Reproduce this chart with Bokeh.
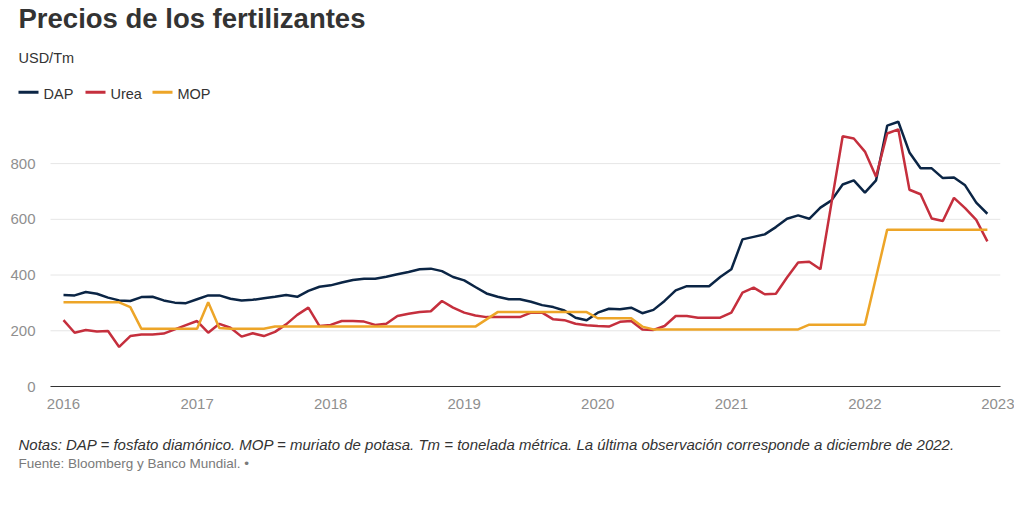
from bokeh.plotting import figure
from bokeh.models import Label, FixedTicker
from bokeh.layouts import column
from bokeh.embed import file_html
from bokeh.resources import INLINE

# ---- data (monthly, Jan 2016 - Dec 2022), USD/Tm ----
years = [2016, 2017, 2018, 2019, 2020, 2021, 2022]
dap = [
    328, 327, 339, 333, 319, 309, 307, 321, 322, 309, 301, 299,
    313, 327, 327, 315, 309, 311, 317, 322, 328, 322, 343, 358,
    363, 373, 382, 387, 387, 394, 403, 411, 421, 423, 414, 393,
    381, 357, 334, 322, 313, 313, 304, 292, 285, 273, 247, 238,
    265, 279, 277, 283, 263, 275, 307, 345, 360, 360, 360, 393,
    421, 528, 537, 546, 572, 602, 614, 602, 642, 668, 725, 740,
    696, 740, 936, 950, 840, 783, 783, 748, 750, 722, 660, 620,
]
urea = [
    238, 193, 203, 197, 199, 142, 181, 187, 187, 190, 205, 220,
    235, 193, 225, 211, 179, 191, 181, 196, 223, 257, 283, 217,
    221, 235, 235, 233, 221, 225, 253, 261, 267, 270, 307, 283,
    265, 255, 249, 249, 249, 249, 265, 265, 241, 238, 225, 220,
    217, 215, 232, 235, 205, 203, 217, 253, 253, 247, 247, 247,
    265, 337, 355, 331, 333, 391, 445, 448, 421, 660, 898, 890,
    843, 753, 908, 923, 706, 690, 603, 594, 677, 640, 598, 521,
]
mop = [
    302, 302, 302, 302, 302, 302, 285, 207, 207, 207, 207, 207,
    207, 302, 210, 207, 207, 207, 207, 215, 215, 215, 215, 215,
    215, 215, 215, 215, 215, 215, 215, 215, 215, 215, 215, 215,
    215, 215, 241, 267, 267, 267, 267, 267, 267, 267, 267, 267,
    245, 245, 245, 245, 215, 205, 205, 205, 205, 205, 205, 205,
    205, 205, 205, 205, 205, 205, 205, 222, 222, 222, 222, 222,
    222, 392, 563, 563, 563, 563, 563, 563, 563, 563, 563, 563,
]
x_ticks = [2016, 2017, 2018, 2019, 2020, 2021, 2022, 2023]
y_ticks = [0, 200, 400, 600, 800]
series_names = ["DAP", "Urea", "MOP"]
title_text = "Precios de los fertilizantes"
unit_text = "USD/Tm"
note_text = ("Notas: DAP = fosfato diamónico. MOP = muriato de potasa. Tm = tonelada métrica. "
             "La última observación corresponde a diciembre de 2022.")
source_text = "Fuente: Bloomberg y Banco Mundial. \u2022"

# decimal-year positions of the monthly observations
t = [y + m / 12 for y in years for m in range(12)]

FONT = "Liberation Sans"
COLORS = ["#0b2545", "#c52f3d", "#eda528"]
W = 1014
LEFT, RIGHT = 16, 1000           # frame edges in page pixels
PX_PER_YEAR = 133.57
X0 = 2016 - (63 - LEFT) / PX_PER_YEAR
X1 = 2023 + (RIGHT - 998) / PX_PER_YEAR
GRID_X0 = 2016 - (63 - 50) / PX_PER_YEAR


def blank(h):
    f = figure(width=W, height=h, output_backend="svg", toolbar_location=None,
               x_range=(LEFT, RIGHT), y_range=(0, h), x_axis_type=None, y_axis_type=None,
               min_border_left=LEFT, min_border_right=W - RIGHT,
               min_border_top=0, min_border_bottom=0)
    f.outline_line_color = None
    f.grid.visible = False
    f.background_fill_color = "white"
    f.border_fill_color = "white"
    return f


def add_label(f, text, x, y, size, color="#333333", style="normal"):
    f.add_layout(Label(text=text, x=x, y=y, text_font=FONT, text_font_size=size,
                       text_color=color, text_font_style=style,
                       text_baseline="middle", text_align="left"))


# ---- header: title, unit, legend ----
HH = 116
head = blank(HH)
add_label(head, title_text, 18, HH - 18, "27.5px", "#333333", "bold")
add_label(head, unit_text, 18, HH - 57.5, "14.5px", "#333333")
leg_x = [18, 85, 152]
for name, c, lx in zip(series_names, COLORS, leg_x):
    head.segment(x0=[lx], y0=[HH - 91.7], x1=[lx + 20], y1=[HH - 91.7], line_color=c, line_width=3)
    add_label(head, name, lx + 25, HH - 93, "14.5px", "#333333")

# ---- main chart ----
p = figure(width=W, height=304, output_backend="svg", toolbar_location=None,
           x_range=(X0, X1), y_range=(0, 969),
           min_border_left=LEFT, min_border_right=W - RIGHT,
           min_border_top=0, min_border_bottom=34)
p.outline_line_color = None
p.background_fill_color = "white"
p.border_fill_color = "white"

# horizontal grid lines (start right of the y labels, as in the source)
p.segment(x0=[GRID_X0] * len(y_ticks), y0=y_ticks, x1=[X1] * len(y_ticks), y1=y_ticks,
          line_color="#e6e6e6", line_width=1)

for vals, c in zip([dap, urea, mop], COLORS):
    p.line(t, vals, line_color=c, line_width=2.5)

p.xaxis.ticker = FixedTicker(ticks=x_ticks)
p.yaxis.ticker = FixedTicker(ticks=y_ticks)
p.grid.visible = False
for ax in (p.xaxis, p.yaxis):
    ax.major_tick_line_color = None
    ax.minor_tick_line_color = None
    ax.major_label_text_font = FONT
    ax.major_label_text_font_size = "15px"
    ax.major_label_text_color = "#8f8f8f"
p.yaxis.axis_line_color = None
p.yaxis.major_label_standoff = -25
p.xaxis.bounds = (GRID_X0, X1)
p.xaxis.axis_line_color = "#333333"
p.xaxis.axis_line_width = 1
p.xaxis.major_label_standoff = 6

# ---- footer: notes and source ----
FH = 70
foot = blank(FH)
add_label(foot, note_text, 18, FH - 24, "15px", "#333333", "italic")
add_label(foot, source_text, 18, FH - 43, "13.5px", "#7a7a7a")

layout = column(head, p, foot, spacing=0)
open("out.html", "w").write(file_html(layout, INLINE))
